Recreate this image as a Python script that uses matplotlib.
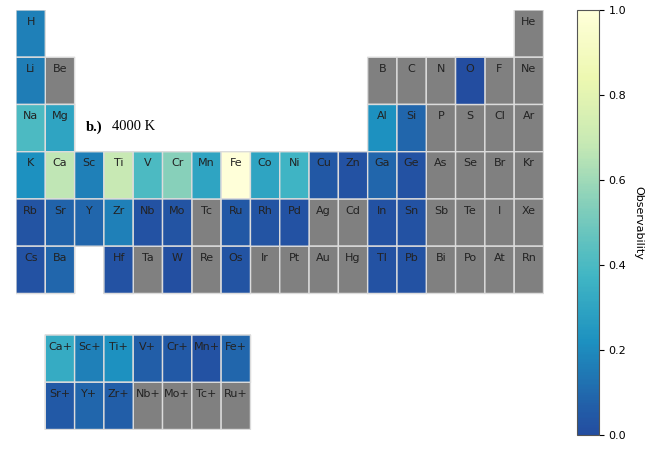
import numpy as np
import matplotlib
matplotlib.use("Agg")
import matplotlib.pyplot as plt
from matplotlib.colors import LinearSegmentedColormap, ListedColormap, Normalize

# element symbols per period (18 groups, '' = no cell)
period1 = ["H"] + [""] * 16 + ["He"]
period2 = ["Li", "Be"] + [""] * 10 + ["B", "C", "N", "O", "F", "Ne"]
period3 = ["Na", "Mg"] + [""] * 10 + ["Al", "Si", "P", "S", "Cl", "Ar"]
period4 = ["K", "Ca", "Sc", "Ti", "V", "Cr", "Mn", "Fe", "Co", "Ni", "Cu", "Zn",
           "Ga", "Ge", "As", "Se", "Br", "Kr"]
period5 = ["Rb", "Sr", "Y", "Zr", "Nb", "Mo", "Tc", "Ru", "Rh", "Pd", "Ag", "Cd",
           "In", "Sn", "Sb", "Te", "I", "Xe"]
period6 = ["Cs", "Ba", "", "Hf", "Ta", "W", "Re", "Os", "Ir", "Pt", "Au", "Hg",
           "Tl", "Pb", "Bi", "Po", "At", "Rn"]
ions1 = ["", "Ca+", "Sc+", "Ti+", "V+", "Cr+", "Mn+", "Fe+"]
ions2 = ["", "Sr+", "Y+", "Zr+", "Nb+", "Mo+", "Tc+", "Ru+"]

# observability (None = not observable -> gray)
obs1 = [0.17] + [None] * 17
obs2 = [0.16, None] + [None] * 10 + [None, None, None, 0.0, None, None]
obs3 = [0.40, 0.30] + [None] * 10 + [0.22, 0.09, None, None, None, None]
obs4 = [0.22, 0.67, 0.17, 0.69, 0.40, 0.55, 0.30, 1.0, 0.30, 0.37, 0.04, 0.02,
        0.09, 0.02, None, None, None, None]
obs5 = [0.03, 0.08, 0.09, 0.17, 0.02, 0.03, None, 0.04, 0.03, 0.02, None, None,
        0.02, 0.02, None, None, None, None]
obs6 = [0.02, 0.09, None, 0.02, None, 0.01, None, 0.03, None, None, None, None,
        0.02, 0.02, None, None, None, None]
obs_ions1 = [None, 0.33, 0.17, 0.22, 0.07, 0.05, 0.02, 0.09]
obs_ions2 = [None, 0.05, 0.09, 0.07, None, None, None, None]

main_syms = [period1, period2, period3, period4, period5, period6]
main_vals = [obs1, obs2, obs3, obs4, obs5, obs6]
ion_syms = [ions1, ions2]
ion_vals = [obs_ions1, obs_ions2]
ion_top = 6.88

cmap = LinearSegmentedColormap.from_list("obs", plt.cm.YlGnBu(np.linspace(0.8, 0.0, 256)))
norm = Normalize(0, 1)
gray = ListedColormap(["#808080"])
edge = "#dcdcdc"

fig = plt.figure(figsize=(6.65, 4.5), dpi=100)
ax = fig.add_axes([16 / 665, 1 - 429.5 / 450, 527.5 / 665, 419.5 / 450])


def draw_block(syms, vals, y0):
    nrow, ncol = len(syms), len(syms[0])
    exists = np.ma.masked_array(np.zeros((nrow, ncol)),
                                mask=[[s == "" for s in r] for r in syms])
    data = np.ma.masked_invalid(np.array(
        [[np.nan if v is None else v for v in r] for r in vals], dtype=float))
    xe = np.arange(ncol + 1)
    ye = y0 + np.arange(nrow + 1)
    # pcolor skips masked cells entirely (no edges drawn there)
    ax.pcolor(xe, ye, exists, cmap=gray, edgecolors=edge, linewidth=1)
    m = ax.pcolor(xe, ye, data, cmap=cmap, norm=norm, edgecolors=edge, linewidth=1)
    for i, r in enumerate(syms):
        for j, s in enumerate(r):
            if s:
                ax.text(j + 0.5, y0 + i + 0.245, s, ha="center", va="center",
                        fontsize=8, color="#222222")
    return m


mesh = draw_block(main_syms, main_vals, 0)
draw_block(ion_syms, ion_vals, ion_top)

ax.set_xlim(0, 18)
ax.set_ylim(ion_top + 2, 0)
ax.axis("off")

fig.text(86 / 665, 1 - 127 / 450, "b.)", fontsize=10.5, fontweight="bold",
         family="Liberation Serif", va="center")
fig.text(112 / 665, 1 - 127 / 450, "4000 K", fontsize=10.5,
         family="Liberation Serif", va="center")

cax = fig.add_axes([577 / 665, 1 - 435 / 450, 22 / 665, 425 / 450])
cb = fig.colorbar(mesh, cax=cax)
cb.set_ticks([0, 0.2, 0.4, 0.6, 0.8, 1.0])
cb.ax.tick_params(labelsize=8)
cb.outline.set_edgecolor("#555555")
cb.set_label("Observability", rotation=270, labelpad=12, fontsize=8)

fig.savefig("out.png", dpi=100)
